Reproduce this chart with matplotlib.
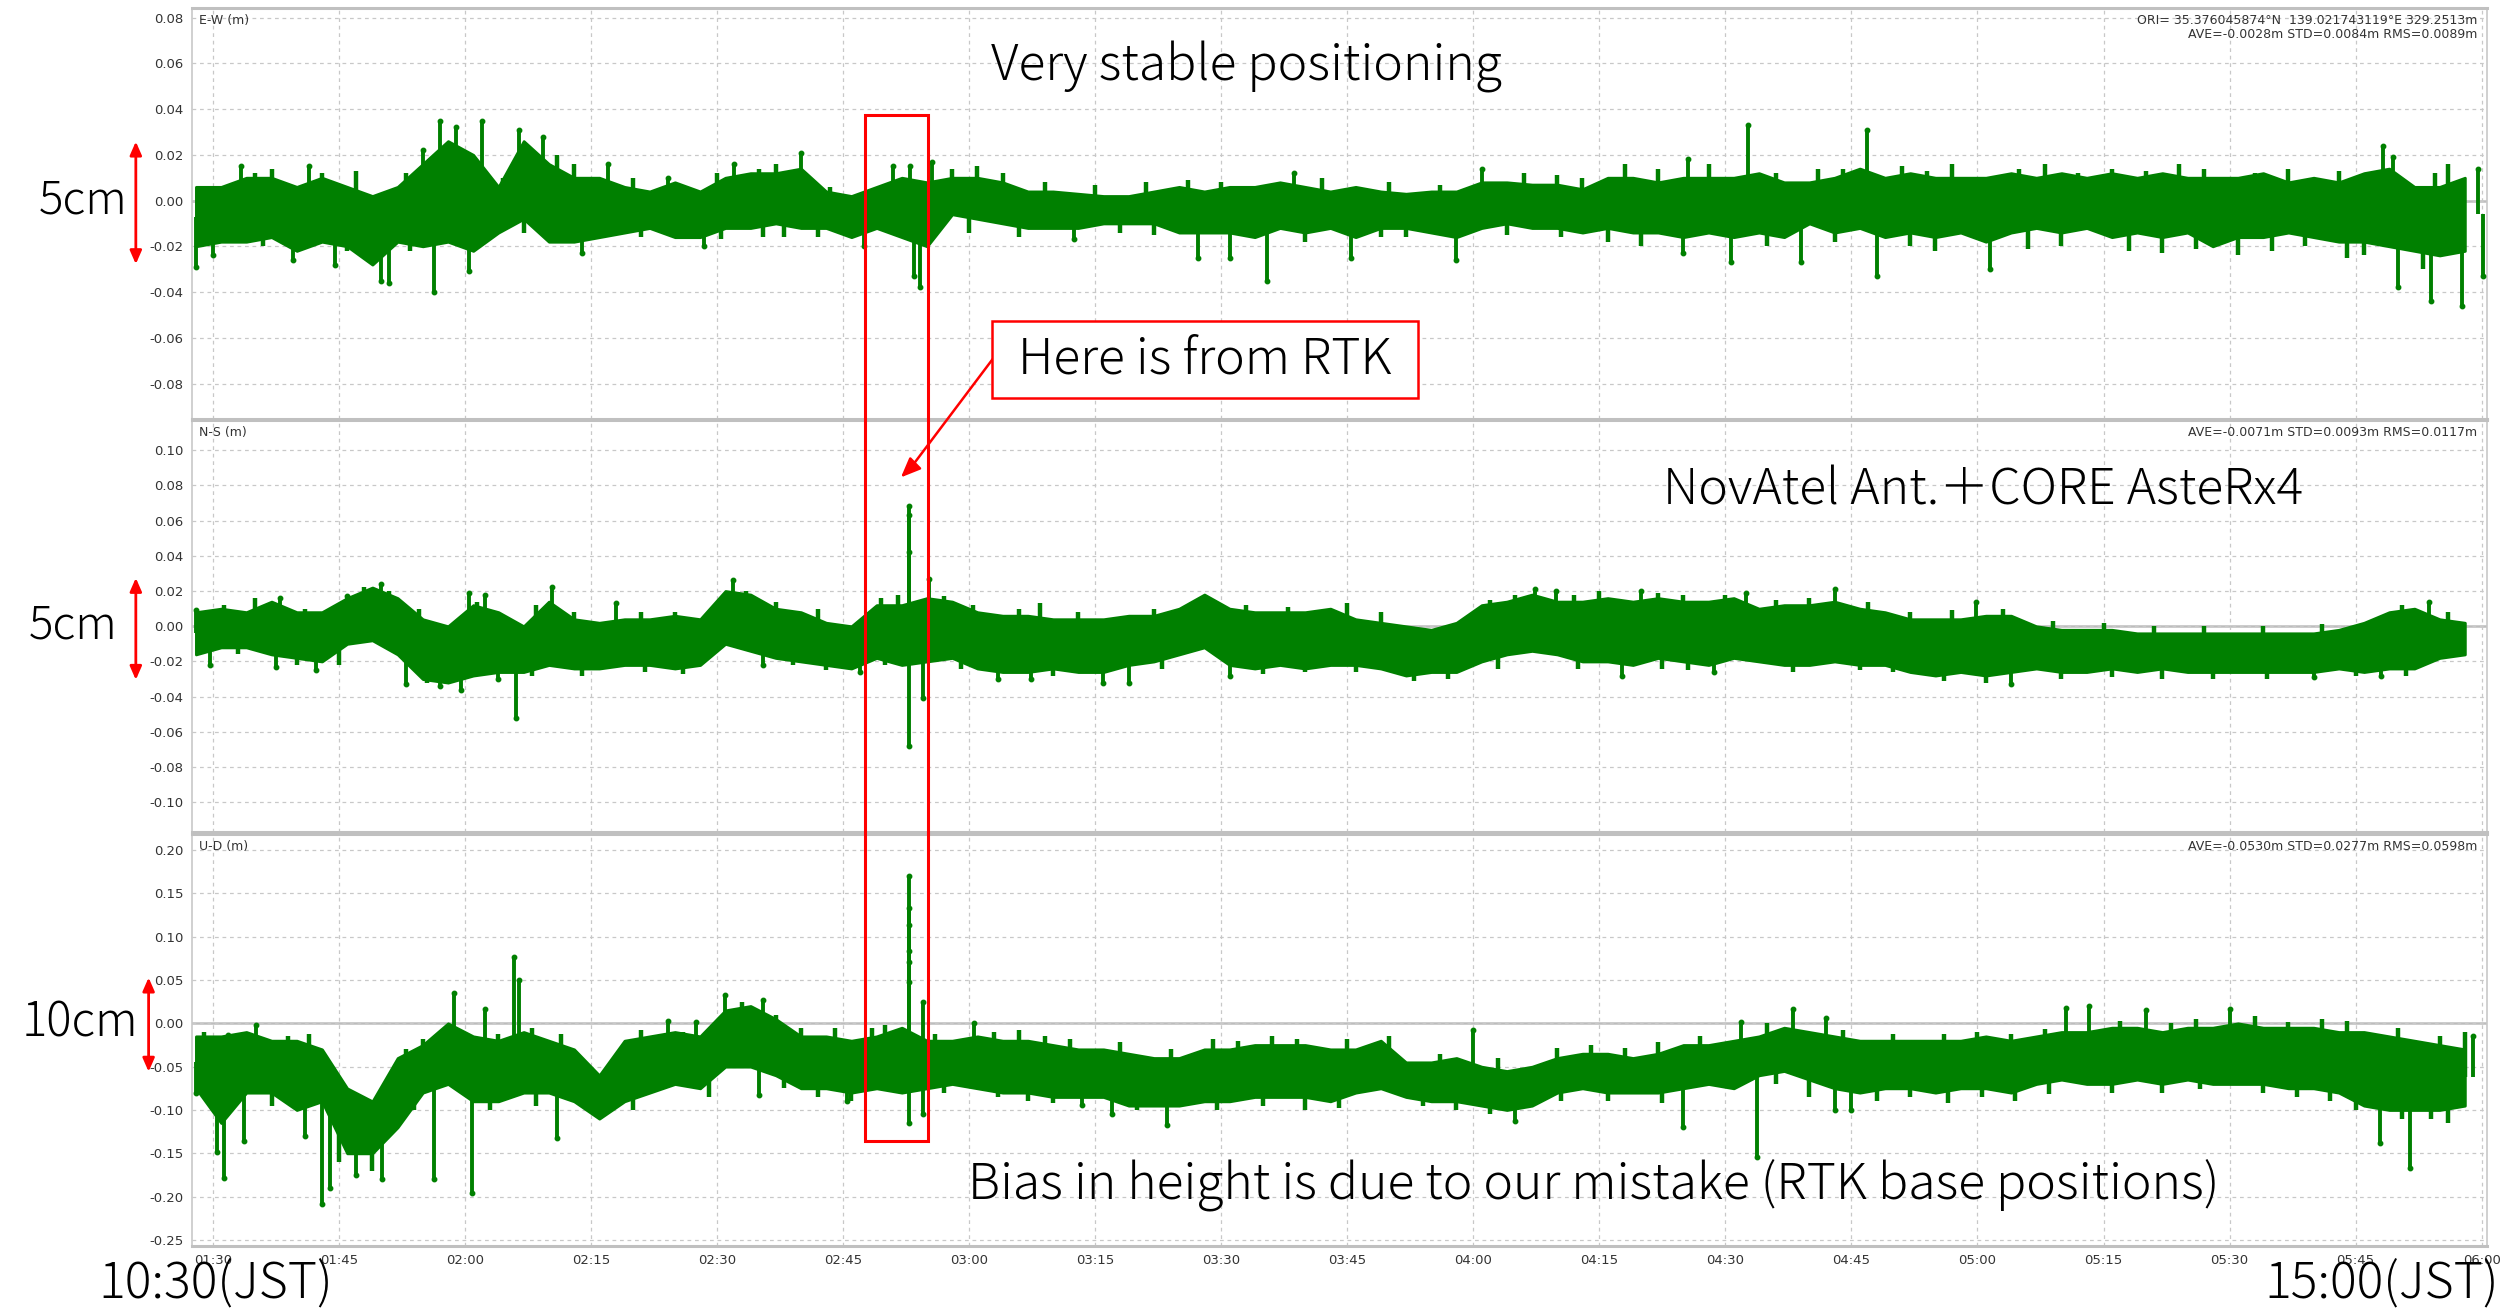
import matplotlib
matplotlib.use("Agg")
import matplotlib.pyplot as plt
from matplotlib.patches import Rectangle
from matplotlib.transforms import blended_transform_factory
import numpy as np

# 3-minute envelope of the RTK solution, minutes after 00:00 (UTC)
minutes = np.arange(88, 361, 3)

ew_hi = [0.006, 0.006, 0.010, 0.010, 0.006, 0.010, 0.006, 0.002, 0.006, 0.016,
         0.026, 0.020, 0.006, 0.026, 0.016, 0.010, 0.010, 0.006, 0.004, 0.008,
         0.004, 0.010, 0.012, 0.012, 0.014, 0.004, 0.002, 0.006, 0.010, 0.008,
         0.010, 0.010, 0.008, 0.004, 0.004, 0.003, 0.002, 0.002, 0.004, 0.006,
         0.004, 0.006, 0.006, 0.008, 0.006, 0.004, 0.006, 0.004, 0.003, 0.004,
         0.004, 0.008, 0.008, 0.007, 0.007, 0.005, 0.010, 0.010, 0.008, 0.010,
         0.010, 0.010, 0.012, 0.008, 0.008, 0.010, 0.014, 0.010, 0.012, 0.010,
         0.010, 0.010, 0.012, 0.010, 0.012, 0.010, 0.012, 0.010, 0.012, 0.010,
         0.010, 0.010, 0.012, 0.008, 0.010, 0.008, 0.012, 0.014, 0.006, 0.006, 0.010]
ew_lo = [-0.020, -0.018, -0.018, -0.016, -0.022, -0.018, -0.020, -0.028, -0.018, -0.020,
         -0.018, -0.022, -0.014, -0.008, -0.018, -0.018, -0.016, -0.014, -0.012, -0.016,
         -0.016, -0.012, -0.012, -0.010, -0.012, -0.012, -0.016, -0.012, -0.016, -0.020,
         -0.006, -0.008, -0.010, -0.012, -0.012, -0.012, -0.010, -0.010, -0.010, -0.014,
         -0.014, -0.014, -0.016, -0.012, -0.014, -0.012, -0.016, -0.012, -0.012, -0.014,
         -0.016, -0.012, -0.010, -0.012, -0.012, -0.014, -0.012, -0.014, -0.014, -0.016,
         -0.014, -0.016, -0.014, -0.016, -0.010, -0.014, -0.012, -0.016, -0.014, -0.016,
         -0.014, -0.018, -0.014, -0.012, -0.014, -0.012, -0.016, -0.014, -0.016, -0.014,
         -0.020, -0.016, -0.016, -0.014, -0.016, -0.018, -0.018, -0.020, -0.022, -0.024, -0.022]
# large excursions
ew_peak_t = [88, 90, 93.4, 99.5, 101.5, 104.6, 110, 111, 115, 116.3, 117, 119, 120.5, 122,
             126.5, 129.3, 134, 137, 144.2, 148.5, 152, 160, 167.5, 171, 173, 173.4, 174.2,
             175.6, 192.5, 207.3, 211, 215.5, 218.7, 225.5, 238, 241, 265, 265.5, 270.7,
             272.7, 279, 286.8, 288, 301.5, 348.3, 349.5, 350, 354, 357.7, 359.6, 360.2]
ew_peak_v = [-0.029, -0.024, 0.015, -0.026, 0.015, -0.028, -0.035, -0.036, 0.022, -0.040,
             0.035, 0.032, -0.031, 0.035, 0.031, 0.028, -0.023, 0.016, 0.010, -0.020, 0.016,
             0.021, -0.020, 0.015, 0.015, -0.033, -0.038, 0.017, -0.017, -0.025, -0.025,
             -0.035, 0.012, -0.025, -0.026, 0.014, -0.023, 0.018, -0.027, 0.033, -0.027,
             0.031, -0.033, -0.030, 0.024, 0.019, -0.038, -0.044, -0.046, 0.014, -0.033]
# smaller ripples on the edges of the band
ew_ripple_t = [95, 97, 103, 107, 113, 124.5, 131, 133, 140, 146, 150, 155, 157, 163.5, 178,
               181, 184, 189, 195, 201, 206, 210, 222, 230, 236, 246, 250, 253, 258, 262, 268,
               276, 281, 284, 291, 294, 297, 305, 308, 312, 316, 320, 324, 327, 333, 337, 343,
               354.5, 356,
               96, 106, 113.5, 127, 141, 150.5, 155.5, 158, 162, 180, 186, 198, 202, 220, 229,
               232, 244, 250.5, 256, 260, 275, 283, 292, 295, 306, 310, 318, 322, 326, 331, 335,
               339, 344, 346, 353]
ew_ripple_v = [0.012, 0.014, 0.012, 0.013, 0.012, 0.010, 0.020, 0.016, 0.010, 0.006, 0.012,
               0.014, 0.016, 0.006, 0.014, 0.015, 0.012, 0.008, 0.007, 0.008, 0.009, 0.008,
               0.010, 0.008, 0.007, 0.012, 0.011, 0.010, 0.016, 0.014, 0.016, 0.012, 0.014,
               0.014, 0.015, 0.013, 0.016, 0.014, 0.016, 0.012, 0.014, 0.013, 0.016, 0.014,
               0.012, 0.014, 0.013, 0.012, 0.016,
               -0.020, -0.022, -0.022, -0.014, -0.016, -0.017, -0.016, -0.016, -0.016, -0.014,
               -0.016, -0.014, -0.015, -0.018, -0.016, -0.016, -0.015, -0.016, -0.018, -0.020,
               -0.020, -0.018, -0.020, -0.022, -0.021, -0.020, -0.022, -0.023, -0.021, -0.024,
               -0.022, -0.020, -0.025, -0.024, -0.030]

ns_hi = [0.008, 0.010, 0.008, 0.014, 0.008, 0.008, 0.016, 0.022, 0.016, 0.004,
         0.000, 0.012, 0.008, 0.000, 0.014, 0.004, 0.002, 0.004, 0.004, 0.006,
         0.004, 0.020, 0.018, 0.010, 0.008, 0.002, 0.000, 0.012, 0.012, 0.016,
         0.014, 0.008, 0.006, 0.006, 0.004, 0.004, 0.004, 0.006, 0.006, 0.010,
         0.018, 0.010, 0.008, 0.008, 0.008, 0.010, 0.004, 0.002, 0.000, -0.002,
         0.002, 0.012, 0.014, 0.018, 0.014, 0.014, 0.016, 0.014, 0.016, 0.014,
         0.014, 0.016, 0.010, 0.012, 0.012, 0.014, 0.010, 0.008, 0.004, 0.004,
         0.004, 0.006, 0.006, 0.000, -0.002, -0.002, -0.002, -0.004, -0.004, -0.004,
         -0.004, -0.004, -0.004, -0.004, -0.004, -0.002, 0.002, 0.008, 0.010, 0.004, 0.002]
ns_lo = [-0.016, -0.012, -0.012, -0.016, -0.018, -0.020, -0.010, -0.008, -0.016, -0.030,
         -0.032, -0.028, -0.026, -0.026, -0.022, -0.024, -0.024, -0.022, -0.022, -0.024,
         -0.022, -0.010, -0.014, -0.018, -0.020, -0.022, -0.024, -0.018, -0.022, -0.020,
         -0.018, -0.024, -0.026, -0.026, -0.024, -0.026, -0.026, -0.022, -0.020, -0.016,
         -0.012, -0.022, -0.024, -0.022, -0.024, -0.022, -0.022, -0.024, -0.028, -0.026,
         -0.026, -0.020, -0.016, -0.014, -0.016, -0.020, -0.020, -0.022, -0.018, -0.020,
         -0.022, -0.018, -0.020, -0.022, -0.022, -0.020, -0.022, -0.022, -0.026, -0.028,
         -0.026, -0.028, -0.026, -0.024, -0.026, -0.026, -0.024, -0.026, -0.024, -0.026,
         -0.026, -0.026, -0.026, -0.026, -0.026, -0.024, -0.026, -0.024, -0.024, -0.018, -0.016]
ns_peak_t = [88, 89.7, 97.5, 98, 102.3, 106, 110, 113, 117, 119.5, 120.5, 122.4, 124, 126.1,
             130.4, 138, 151.9, 155.5, 167, 172.9, 172.9, 172.9, 172.9, 174.5, 175.2, 183.4,
             187.4, 196, 199, 211, 247.3, 249.8, 257.7, 260, 268.7, 272.4, 283, 299.8, 304,
             340, 348, 353.7]
ns_peak_v = [0.009, -0.022, -0.023, 0.016, -0.025, 0.017, 0.024, -0.033, -0.034, -0.036,
             0.019, 0.018, -0.030, -0.052, 0.022, 0.013, 0.026, -0.022, -0.026, 0.068,
             0.063, 0.042, -0.068, -0.041, 0.027, -0.030, -0.030, -0.032, -0.032, -0.028,
             0.021, 0.020, -0.028, 0.020, -0.026, 0.019, 0.021, 0.014, -0.033, -0.029,
             -0.028, 0.014]
ns_ripple_t = [91.3, 95, 101, 104, 108, 111, 114.5, 121.5, 128.5, 133, 141, 145, 153.5, 157,
               162, 169.5, 171.5, 177, 180.5, 186, 188.4, 193, 202, 206.5, 213, 218, 225, 229,
               242, 245, 252, 255, 262, 265, 270, 276, 280, 287, 292, 297, 303, 309, 315, 321,
               327, 334, 341, 350.5, 356,
               93, 100, 105, 115.5, 128, 134, 141.5, 146, 159, 163, 170, 179, 190, 203, 215,
               220, 226, 233, 237, 243, 252.5, 262.5, 265.5, 278, 286, 290, 296, 301, 310, 316,
               322, 328, 334.5, 345, 351]
ns_ripple_v = [0.012, 0.016, 0.010, 0.010, 0.022, 0.020, 0.010, 0.014, 0.012, 0.008, 0.008,
               0.008, 0.020, 0.014, 0.010, 0.016, 0.018, 0.017, 0.012, 0.010, 0.013, 0.008,
               0.010, 0.014, 0.012, 0.011, 0.013, 0.008, 0.015, 0.018, 0.018, 0.020, 0.019,
               0.018, 0.018, 0.015, 0.016, 0.014, 0.008, 0.009, 0.010, 0.003, 0.002, 0.000,
               0.000, 0.000, 0.001, 0.012, 0.008,
               -0.016, -0.022, -0.022, -0.032, -0.028, -0.028, -0.026, -0.027, -0.022, -0.025,
               -0.022, -0.024, -0.028, -0.024, -0.027, -0.026, -0.026, -0.031, -0.030, -0.024,
               -0.024, -0.024, -0.025, -0.026, -0.025, -0.026, -0.031, -0.032, -0.030, -0.029,
               -0.030, -0.030, -0.030, -0.028, -0.028]

ud_hi = [-0.015, -0.015, -0.010, -0.020, -0.020, -0.030, -0.075, -0.090, -0.040, -0.025,
         0.000, -0.015, -0.020, -0.010, -0.020, -0.030, -0.060, -0.020, -0.015, -0.010,
         -0.015, 0.015, 0.020, 0.005, -0.015, -0.015, -0.020, -0.015, -0.005, -0.020,
         -0.020, -0.015, -0.020, -0.020, -0.025, -0.030, -0.030, -0.035, -0.040, -0.040,
         -0.030, -0.030, -0.025, -0.025, -0.025, -0.030, -0.030, -0.020, -0.045, -0.045,
         -0.040, -0.050, -0.055, -0.050, -0.040, -0.035, -0.035, -0.040, -0.035, -0.025,
         -0.025, -0.020, -0.015, -0.005, -0.010, -0.015, -0.020, -0.020, -0.020, -0.020,
         -0.020, -0.015, -0.020, -0.015, -0.010, -0.010, -0.005, -0.005, -0.010, -0.005,
         -0.005, 0.000, -0.005, -0.005, -0.005, -0.010, -0.010, -0.015, -0.020, -0.025, -0.030]
ud_lo = [-0.075, -0.115, -0.080, -0.080, -0.100, -0.090, -0.150, -0.150, -0.120, -0.080,
         -0.070, -0.090, -0.090, -0.080, -0.080, -0.090, -0.110, -0.090, -0.080, -0.070,
         -0.075, -0.050, -0.050, -0.060, -0.075, -0.075, -0.080, -0.075, -0.080, -0.075,
         -0.070, -0.075, -0.080, -0.080, -0.085, -0.085, -0.085, -0.095, -0.095, -0.095,
         -0.090, -0.090, -0.085, -0.085, -0.085, -0.090, -0.080, -0.075, -0.085, -0.090,
         -0.090, -0.095, -0.100, -0.095, -0.080, -0.075, -0.080, -0.080, -0.080, -0.075,
         -0.070, -0.075, -0.060, -0.055, -0.065, -0.075, -0.080, -0.075, -0.075, -0.080,
         -0.075, -0.075, -0.080, -0.070, -0.065, -0.070, -0.070, -0.065, -0.070, -0.065,
         -0.070, -0.070, -0.070, -0.075, -0.075, -0.080, -0.095, -0.100, -0.100, -0.100, -0.095]
ud_peak_t = [88, 90.5, 91.3, 91.8, 93.7, 95.2, 101, 103, 104, 107, 110.2, 116.3, 118.7, 120.8,
             122.4, 125.9, 126.5, 131, 144.2, 147.5, 151, 155, 155.5, 165.5, 172.9, 172.9,
             172.9, 172.9, 172.9, 172.9, 172.9, 174.5, 174.5, 180.6, 193.5, 197, 203.5, 240,
             245, 265, 271.9, 273.8, 278, 282, 283, 285, 310.5, 313.3, 320, 330, 347.9,
             351.5, 359]
ud_peak_v = [-0.080, -0.148, -0.178, -0.013, -0.136, -0.002, -0.130, -0.209, -0.190, -0.175,
             -0.180, -0.180, 0.035, -0.196, 0.017, 0.077, 0.050, -0.132, 0.003, 0.002, 0.033,
             -0.083, 0.027, -0.090, 0.170, 0.133, 0.113, 0.084, 0.071, 0.048, -0.115, 0.025,
             -0.105, 0.000, -0.094, -0.105, -0.117, -0.008, -0.113, -0.120, 0.002, -0.154,
             0.017, 0.006, -0.100, -0.100, 0.018, 0.020, 0.015, 0.016, -0.138, -0.167, -0.015]
ud_ripple_t = [89, 93, 99, 101.5, 113, 115, 117, 124, 128, 131.5, 141, 146, 153, 157, 160,
               164, 168.5, 170, 176, 183, 186, 189, 192, 198, 204, 209, 212, 216, 219, 225,
               230, 236, 243, 250, 254, 258, 262, 267, 275, 284, 290, 296, 300, 304, 308, 317,
               323, 326, 333, 337, 341, 344, 350, 355, 358,
               97, 105, 109, 114, 123, 128.5, 140, 149, 158, 162, 166, 177, 183.5, 187, 190,
               200, 209.5, 215, 220, 224, 234, 238, 242, 250.5, 256, 262.5, 276, 280, 288, 292,
               296.5, 300.5, 304.5, 308.5, 316, 322, 326.5, 334, 338, 342, 345, 350.5, 354, 356]
ud_ripple_v = [-0.010, -0.012, -0.015, -0.012, -0.030, -0.018, -0.020, -0.012, -0.005, -0.012,
               -0.008, -0.010, 0.025, 0.010, -0.005, -0.005, -0.005, -0.002, -0.012, -0.010,
               -0.008, -0.015, -0.018, -0.022, -0.030, -0.018, -0.020, -0.015, -0.018, -0.018,
               -0.015, -0.035, -0.040, -0.028, -0.025, -0.028, -0.022, -0.015, 0.000, -0.008,
               -0.012, -0.012, -0.010, -0.012, -0.006, 0.003, 0.000, 0.005, 0.008, 0.002,
               0.005, 0.003, -0.005, -0.015, -0.010,
               -0.095, -0.160, -0.170, -0.100, -0.100, -0.095, -0.100, -0.085, -0.075, -0.085,
               -0.090, -0.080, -0.085, -0.090, -0.092, -0.100, -0.100, -0.095, -0.100, -0.098,
               -0.095, -0.100, -0.105, -0.090, -0.090, -0.092, -0.070, -0.085, -0.090, -0.085,
               -0.092, -0.085, -0.090, -0.082, -0.080, -0.080, -0.076, -0.080, -0.085, -0.090,
               -0.100, -0.110, -0.110, -0.115]

tick_minutes = np.arange(90, 361, 15)
tick_labels = [f"{m // 60:02d}:{m % 60:02d}" for m in tick_minutes]

panels = [
    ("E-W (m)", ew_hi, ew_lo, ew_peak_t, ew_peak_v, ew_ripple_t, ew_ripple_v,
     (-0.0953, 0.0842), np.arange(-0.08, 0.081, 0.02),
     "ORI= 35.376045874°N  139.021743119°E 329.2513m\nAVE=-0.0028m STD=0.0084m RMS=0.0089m"),
    ("N-S (m)", ns_hi, ns_lo, ns_peak_t, ns_peak_v, ns_ripple_t, ns_ripple_v,
     (-0.117, 0.117), np.arange(-0.10, 0.101, 0.02),
     "AVE=-0.0071m STD=0.0093m RMS=0.0117m"),
    ("U-D (m)", ud_hi, ud_lo, ud_peak_t, ud_peak_v, ud_ripple_t, ud_ripple_v,
     (-0.257, 0.2185), np.arange(-0.25, 0.201, 0.05),
     "AVE=-0.0530m STD=0.0277m RMS=0.0598m"),
]

GREEN = "#008000"
small_font = ["Liberation Sans Narrow", "DejaVu Sans"]
big_font = ["Noto Sans CJK JP", "DejaVu Sans"]

fig = plt.figure(figsize=(25.06, 13.10), dpi=100)
boxes = [(0.0765, 0.6805, 0.9158, 0.3134),
         (0.0765, 0.3646, 0.9158, 0.3147),
         (0.0765, 0.0488, 0.9158, 0.3146)]
axes = []
for box, (name, hi, lo, pk_t, pk_v, rp_t, rp_v, ylim, yticks, stats) in zip(boxes, panels):
    ax = fig.add_axes(box)
    axes.append(ax)
    hi = np.array(hi)
    lo = np.array(lo)
    mid = (hi + lo) / 2
    ax.fill_between(minutes, lo, hi, color=GREEN, linewidth=2.0, edgecolor=GREEN, zorder=3)
    ax.vlines(rp_t, np.interp(rp_t, minutes, mid), rp_v, color=GREEN, linewidth=3.2, zorder=3)
    ax.vlines(pk_t, np.interp(pk_t, minutes, mid), pk_v, color=GREEN, linewidth=2.8, zorder=3)
    ax.plot(pk_t, pk_v, "o", color=GREEN, markersize=3.2, zorder=4)

    ax.set_xlim(87.5, 360.6)
    ax.set_ylim(*ylim)
    ax.set_yticks(yticks)
    ax.set_yticklabels([f"{v:.2f}" if abs(v) > 1e-9 else "0.00" for v in yticks],
                       family=small_font, fontsize=9.5, color="#333333")
    ax.set_xticks(tick_minutes)
    ax.grid(True, linestyle=(0, (3, 3)), color="#c8c8c8", linewidth=0.9, zorder=0)
    ax.axhline(0, color="#bdbdbd", linewidth=1.8, zorder=1)
    ax.tick_params(length=0, pad=6)
    for side in ("top", "bottom"):
        ax.spines[side].set_color("#c0c0c0")
        ax.spines[side].set_linewidth(2.2)
    for side in ("left", "right"):
        ax.spines[side].set_color("#c8c8c8")
        ax.spines[side].set_linewidth(1.2)
    ax.text(0.003, 0.985, name, transform=ax.transAxes, ha="left", va="top",
            family=small_font, fontsize=9, color="#333333")
    ax.text(0.996, 0.985, stats, transform=ax.transAxes, ha="right", va="top",
            family=small_font, fontsize=9, color="#333333", linespacing=1.1)

for ax in axes[:2]:
    ax.set_xticklabels([])
axes[2].set_xticklabels(tick_labels, family=small_font, fontsize=9.5, color="#333333")

# RTK outliers are joined by the thin grey track line
axes[1].plot([172.9, 172.9], [-0.068, 0.068], color="#c0c0c0", linewidth=0.9, zorder=2)
axes[2].plot([172.9, 172.9], [-0.115, 0.170], color="#c0c0c0", linewidth=0.9, zorder=2)

# red highlight of the RTK period, across all three panels
trans = blended_transform_factory(axes[0].transData, fig.transFigure)
fig.patches.append(Rectangle((167.6, 0.1293), 175.1 - 167.6, 0.9122 - 0.1293, transform=trans,
                             fill=False, edgecolor="red", linewidth=2.2, zorder=10))

# callout box and arrow
fig.patches.append(Rectangle((0.396, 0.6963), 0.1697, 0.0586, transform=fig.transFigure,
                             facecolor="white", edgecolor="red", linewidth=1.8, zorder=10))
fig.text(0.4809, 0.7256, "Here is from RTK", ha="center", va="center", family=big_font,
         fontweight="light", fontsize=36, zorder=11)
fig.add_artist(plt.Line2D([0.396, 0.3625], [0.7256, 0.6405], transform=fig.transFigure,
                          color="red", linewidth=1.8))
axes[1].annotate("", xy=(0.3587, 0.6341), xytext=(0.3640, 0.6440), xycoords=fig.transFigure,
                 textcoords=fig.transFigure,
                 arrowprops=dict(arrowstyle="-|>,head_length=1.2,head_width=0.5", color="red", lw=1.8))

fig.text(0.4974, 0.9488, "Very stable positioning", ha="center", va="center",
         family=big_font, fontweight="light", fontsize=36)
fig.text(0.7915, 0.6256, "NovAtel Ant.＋CORE AsteRx4", ha="center", va="center",
         family=big_font, fontweight="light", fontsize=36)
fig.text(0.6358, 0.0951, "Bias in height is due to our mistake (RTK base positions)",
         ha="center", va="center", family=big_font, fontweight="light", fontsize=36)

# scale arrows on the left margin
for ax, x_fig, lo_v, hi_v, label, lx, fs in [(axes[0], 0.0542, -0.029, 0.027, "5cm", 0.0332, 33),
                                             (axes[1], 0.0542, -0.032, 0.029, "5cm", 0.0293, 33),
                                             (axes[2], 0.0593, -0.059, 0.056, "10cm", 0.0319, 34)]:
    ax.annotate("", xy=(x_fig, hi_v), xytext=(x_fig, lo_v),
                xycoords=(fig.transFigure, ax.transData), textcoords=(fig.transFigure, ax.transData),
                arrowprops=dict(arrowstyle="<|-|>,head_length=0.8,head_width=0.35", color="red", lw=2),
                annotation_clip=False)
    ax.annotate(label, xy=(lx, 0), xycoords=(fig.transFigure, ax.transData), ha="center",
                va="center", family=big_font, fontweight="light", fontsize=fs, annotation_clip=False)

fig.text(0.0861, 0.0195, "10:30(JST)", ha="center", va="center", family=big_font,
         fontweight="light", fontsize=36)
fig.text(0.9503, 0.0195, "15:00(JST)", ha="center", va="center", family=big_font,
         fontweight="light", fontsize=36)

fig.savefig("out.png", dpi=100, facecolor="white")
